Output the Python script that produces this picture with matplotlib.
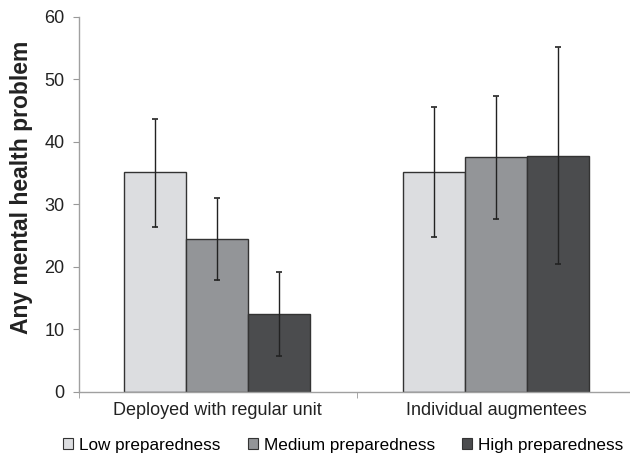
import matplotlib.pyplot as plt
from matplotlib.patches import Patch
import numpy as np

plt.rcParams['font.family'] = ['Liberation Sans', 'DejaVu Sans']

groups = ['Deployed with regular unit', 'Individual augmentees']
levels = ['Low preparedness', 'Medium preparedness', 'High preparedness']
colors = ['#dcdde0', '#939598', '#4b4c4e']

values = [[35.2, 24.5, 12.5],
          [35.1, 37.6, 37.8]]
err_low = [[26.4, 17.9, 5.8],
           [24.8, 27.7, 20.5]]
err_high = [[43.7, 31.0, 19.2],
            [45.5, 47.3, 55.1]]

fig = plt.figure(figsize=(6.3, 4.58), dpi=100)
ax = fig.add_axes([79 / 630, 66 / 458, 551 / 630, 375.3 / 458])

x = np.arange(len(groups))
w = 0.222
for i in range(len(levels)):
    v = np.array([values[g][i] for g in range(len(groups))])
    lo = np.array([err_low[g][i] for g in range(len(groups))])
    hi = np.array([err_high[g][i] for g in range(len(groups))])
    ax.bar(x + (i - 1) * w, v, width=w, color=colors[i], edgecolor='#333333',
           linewidth=1.0, zorder=2)
    ax.errorbar(x + (i - 1) * w, v, yerr=[v - lo, hi - v], fmt='none',
                ecolor='#222222', elinewidth=1.0, capsize=2.5, capthick=1.2, zorder=3)

ax.set_xlim(-0.495, 1.48)
ax.set_ylim(0, 60)
ax.set_yticks(range(0, 61, 10))
ax.set_xticks(x)
ax.set_xticklabels(groups, fontsize=13, color='#222222')
ax.set_xticks([-0.495, 0.5], minor=True)
ax.tick_params(axis='x', which='major', length=0, pad=7)
ax.tick_params(axis='x', which='minor', length=4, color='#999999')
ax.tick_params(axis='y', length=4.5, color='#999999', labelsize=13, labelcolor='#222222', pad=6)
for s in ['top', 'right']:
    ax.spines[s].set_visible(False)
for s in ['left', 'bottom']:
    ax.spines[s].set_color('#a0a0a0')
    ax.spines[s].set_linewidth(1.0)

ax.set_ylabel('Any mental health problem', fontsize=16.5, fontweight='bold',
              color='#222222')
ax.yaxis.set_label_coords(-0.083, 0.544)

handles = [Patch(facecolor=c, edgecolor='#333333', linewidth=0.8) for c in colors]
fig.legend(handles, levels, loc='center', bbox_to_anchor=(0.545, 0.028), ncol=3,
           frameon=False, fontsize=12.3, handlelength=0.58, handleheight=0.58,
           handletextpad=0.35, columnspacing=1.6)

fig.savefig('out.png', dpi=100)
